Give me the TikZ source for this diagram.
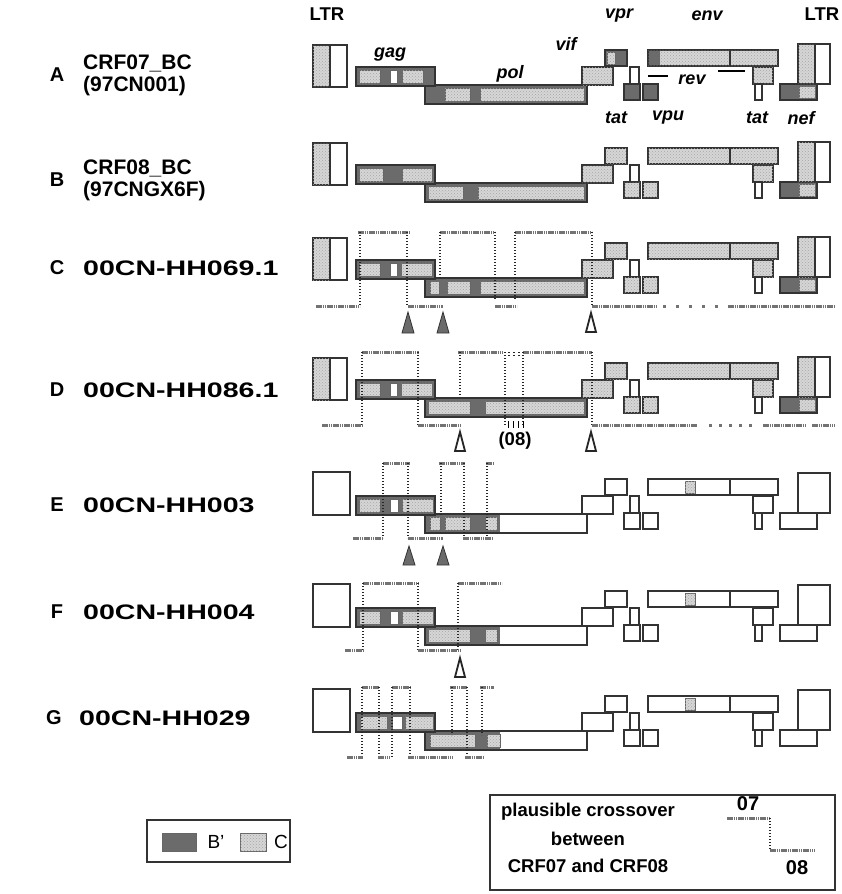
\documentclass[tikz,border=0pt]{standalone}
\usepackage{fontspec}
\setmainfont{Liberation Sans}
\usetikzlibrary{patterns}
\definecolor{cB}{gray}{0.42}
\definecolor{cC}{gray}{0.84}
\begin{document}
\begin{tikzpicture}[x=1pt,y=-1pt,
  gb/.style={draw=black!80,line width=1.6pt},
  pp/.style={draw=black!60,line width=0.6pt},
  fC/.style={fill=cC,postaction={pattern=crosshatch dots,pattern color=black!35}},
  fB/.style={fill=cB},
  fW/.style={fill=white},
  hb/.style={draw=black!55,line width=3pt,dash pattern=on 1.6pt off 0.6pt},
  dl/.style={draw=black!85,line width=1.3pt,dash pattern=on 1.4pt off 1.6pt},
  lab/.style={font=\fontsize{21}{23}\selectfont\bfseries,anchor=west,inner sep=0pt},
  let/.style={font=\fontsize{20}{22}\selectfont\bfseries,inner sep=0pt},
  gene/.style={font=\fontsize{18}{20}\selectfont\bfseries\itshape,inner sep=0pt},
  bt/.style={font=\fontsize{18.5}{20}\selectfont\bfseries,inner sep=0pt},
  ftri/.style={fill=cB,draw=black!80,line width=0.8pt},
  otri/.style={draw=black!85,line width=1.8pt,fill=white}]
\useasboundingbox (0,0) rectangle (841,894);
\newcommand\bx[5]{\draw[gb,#5] (#1,#2) rectangle (#3,#4);}
\newcommand\pq[5]{\draw[pp,#5] (#1,#2) rectangle (#3,#4);}
\newcommand\wide[1]{\scalebox{1.36}[1]{#1}}
% common right part for coloured rows
\newcommand\rightpart[1]{%
  \bx{582}{0}{613}{18}{fC}
  \bx{630}{0}{639}{17}{fW}
  \bx{624}{17}{640}{33}{#1}
  \bx{643}{17}{658}{33}{#1}
  \bx{753}{0}{773}{17}{fC}
  \bx{755}{17}{762}{33}{fW}
  \bx{780}{17}{817}{33}{fB}\pq{799}{19}{815}{31}{fC}
  \bx{798}{-23}{815}{17}{fC}\bx{815}{-23}{830}{17}{fW}
  \bx{313}{-22}{330}{20}{fC}\bx{330}{-22}{347}{20}{fW}}
\newcommand\whitepart{%
  \bx{313}{-24}{350}{19}{fW}
  \bx{582}{0}{613}{18}{fW}
  \bx{605}{-17}{627}{-1}{fW}
  \bx{630}{0}{639}{17}{fW}
  \bx{624}{17}{640}{33}{fW}
  \bx{643}{17}{658}{33}{fW}
  \bx{648}{-17}{778}{-1}{fW}\pq{685}{-15}{695}{-3}{fC}\draw[gb] (730,-17)--(730,-1);
  \bx{753}{0}{773}{17}{fW}
  \bx{755}{17}{762}{33}{fW}
  \bx{780}{17}{817}{33}{fW}
  \bx{798}{-23}{830}{17}{fW}}
% ---------------- Row A
\begin{scope}[shift={(0,67)}]
  \bx{425}{18}{587}{37}{fB}\pq{445}{21}{470}{34}{fC}\pq{480}{21}{584}{34}{fC}
  \bx{356}{0}{435}{19}{fB}\pq{359}{3}{380}{16}{fC}\pq{390}{3}{397}{16}{fW}\pq{402}{3}{423}{16}{fC}
  \rightpart{fB}
  \bx{605}{-17}{627}{-1}{fB}\pq{607}{-15}{615}{-3}{fC}
  \bx{648}{-17}{778}{-1}{fC}\fill[cB] (649,-16) rectangle (660,-2);\draw[gb] (730,-17)--(730,-1);
\end{scope}
% ---------------- Row B
\begin{scope}[shift={(0,165)}]
  \bx{425}{18}{587}{37}{fB}\pq{428}{21}{463}{34}{fC}\pq{478}{21}{584}{34}{fC}
  \bx{356}{0}{435}{19}{fB}\pq{359}{3}{383}{16}{fC}\pq{402}{3}{432}{16}{fC}
  \rightpart{fC}
  \bx{605}{-17}{627}{-1}{fC}
  \bx{648}{-17}{778}{-1}{fC}\draw[gb] (730,-17)--(730,-1);
\end{scope}
% ---------------- Row C
\begin{scope}[shift={(0,260)}]
  \bx{425}{18}{587}{37}{fB}\pq{430}{21}{439}{34}{fC}\pq{447}{21}{470}{34}{fC}\pq{480}{21}{584}{34}{fC}
  \bx{356}{0}{435}{19}{fB}\pq{359}{3}{380}{16}{fC}\pq{390}{3}{397}{16}{fW}\pq{401}{3}{432}{16}{fC}
  \rightpart{fC}
  \bx{605}{-17}{627}{-1}{fC}
  \bx{648}{-17}{778}{-1}{fC}\draw[gb] (730,-17)--(730,-1);
\end{scope}
% ---------------- Row D
\begin{scope}[shift={(0,380)}]
  \bx{425}{18}{587}{37}{fB}\pq{428}{21}{470}{34}{fC}\pq{485}{21}{584}{34}{fC}
  \bx{356}{0}{435}{19}{fB}\pq{359}{3}{380}{16}{fC}\pq{390}{3}{397}{16}{fW}\pq{401}{3}{432}{16}{fC}
  \rightpart{fC}
  \bx{605}{-17}{627}{-1}{fC}
  \bx{648}{-17}{778}{-1}{fC}\draw[gb] (730,-17)--(730,-1);
\end{scope}
% ---------------- Row E
\begin{scope}[shift={(0,496)}]
  \bx{425}{18}{587}{37}{fW}\fill[cB] (426,19) rectangle (500,36);
  \pq{430}{21}{440}{34}{fC}\pq{445}{21}{470}{34}{fC}\pq{485}{21}{497}{34}{fC}
  \bx{356}{0}{435}{19}{fB}\pq{359}{3}{380}{16}{fC}\pq{390}{3}{398}{16}{fW}\pq{402}{3}{433}{16}{fC}
  \whitepart
\end{scope}
% ---------------- Row F
\begin{scope}[shift={(0,608)}]
  \bx{425}{18}{587}{37}{fW}\fill[cB] (426,19) rectangle (500,36);
  \pq{428}{21}{470}{34}{fC}\pq{485}{21}{497}{34}{fC}
  \bx{356}{0}{435}{19}{fB}\pq{359}{3}{380}{16}{fC}\pq{390}{3}{398}{16}{fW}\pq{402}{3}{433}{16}{fC}
  \whitepart
\end{scope}
% ---------------- Row G
\begin{scope}[shift={(0,713)}]
  \bx{425}{18}{587}{37}{fW}\fill[cB] (426,19) rectangle (500,36);
  \pq{430}{21}{475}{34}{fC}\pq{487}{21}{500}{34}{fC}
  \bx{356}{0}{435}{19}{fB}\pq{360}{3}{387}{16}{fC}\pq{392}{3}{402}{16}{fW}\pq{405}{3}{433}{16}{fC}
  \whitepart
\end{scope}
% ---------------- gene labels
\node[bt] (ltrl) at (327,14) {LTR};
\node[bt] (ltrr) at (822,14) {LTR};
\node[gene] (ggag) at (390,55) {gag};
\node[gene] (gpol) at (510,74) {pol};
\node[gene] (gvif) at (566,44) {vif};
\node[gene] (gvpr) at (619,16) {vpr};
\node[gene] (genv) at (707,16) {env};
\node[gene] (grev) at (692,80) {rev};
\node[gene] (gtat1) at (616,118) {tat};
\node[gene] (gvpu) at (668,118) {vpu};
\node[gene] (gtat2) at (757,118) {tat};
\node[gene] (gnef) at (801,118) {nef};
\draw[line width=1.2pt] (648,76)--(668,76);
\draw[line width=1.2pt] (718,71)--(745,71);
% ---------------- row labels
\node[let] (la) at (57,75) {A};
\node[lab] (na1) at (83,63) {CRF07\_BC};
\node[lab] (na2) at (83,86) {(97CN001)};
\node[let] (lb) at (57,180) {B};
\node[lab] (nb1) at (83,168) {CRF08\_BC};
\node[lab] (nb2) at (83,191) {(97CNGX6F)};
\node[let] (lc) at (57,268) {C};
\node[lab] (nc) at (83,268) {\wide{00CN-HH069.1}};
\node[let] (ld) at (57,390) {D};
\node[lab] (nd) at (83,390) {\wide{00CN-HH086.1}};
\node[let] (le) at (57,505) {E};
\node[lab] (ne) at (83,505) {\wide{00CN-HH003}};
\node[let] (lf) at (57,612) {F};
\node[lab] (nf) at (83,612) {\wide{00CN-HH004}};
\node[let] (lg) at (54,718) {G};
\node[lab] (ng) at (79,718) {\wide{00CN-HH029}};
% ---------------- Row C crossovers
\foreach \a/\b in {358/409,440/495,515/592} \draw[hb] (\a,232)--(\b,232);
\foreach \x/\e in {360/305,407/305,440/278,495/300,515/300,592/305} \draw[dl] (\x,232)--(\x,\e);
\foreach \a/\b in {316/360,408/443,495/517,592/657,728/835} \draw[hb] (\a,306)--(\b,306);
\foreach \x in {663,676,689,702,715} \draw[hb] (\x,306)--(\x+3,306);
\draw[ftri] (402,333)--(408,312)--(414,333)--cycle;
\draw[ftri] (437,333)--(443,312)--(449,333)--cycle;
\draw[otri] (586,332)--(591,313)--(596,332)--cycle;
% ---------------- Row D crossovers
\foreach \a/\b in {362/419,458/503,523/592} \draw[hb] (\a,352)--(\b,352);
\foreach \x in {509,514,519} \draw[dl] (\x,352)--(\x,357);
\foreach \x/\e in {362/425,418/425,460/397,505/425,523/425,592/425} \draw[dl] (\x,352)--(\x,\e);
\foreach \a/\b in {322/362,418/460,592/697,763/805,812/835} \draw[hb] (\a,425)--(\b,425);
\foreach \x in {709,719,729,739,749} \draw[hb] (\x,425)--(\x+3,425);
\foreach \x in {508,513,518,523} \draw[line width=1pt] (\x,421)--(\x,428);
\draw[otri] (455,451)--(460,432)--(465,451)--cycle;
\draw[otri] (586,451)--(591,432)--(596,451)--cycle;
\node[bt] (n08) at (515,441) {(08)};
% ---------------- Row E crossovers
\foreach \a/\b in {383/410,439/465,486/494} \draw[hb] (\a,463)--(\b,463);
\foreach \x/\e in {383/538,408/538,441/515,464/538,487/538} \draw[dl] (\x,463)--(\x,\e);
\foreach \a/\b in {353/383,408/443,463/492} \draw[hb] (\a,538)--(\b,538);
\draw[ftri] (403,565)--(409,546)--(415,565)--cycle;
\draw[ftri] (437,565)--(443,546)--(449,565)--cycle;
% ---------------- Row F crossovers
\foreach \a/\b in {363/419,458/502} \draw[hb] (\a,583)--(\b,583);
\foreach \x/\e in {363/650,418/650,458/650} \draw[dl] (\x,583)--(\x,\e);
\foreach \a/\b in {345/363,418/460} \draw[hb] (\a,650)--(\b,650);
\draw[otri] (455,677)--(460,658)--(465,677)--cycle;
% ---------------- Row G crossovers
\foreach \a/\b in {362/379,392/410,450/467,480/494} \draw[hb] (\a,687)--(\b,687);
\foreach \x/\e in {362/757,379/757,392/757,410/757,452/735,467/757,482/735} \draw[dl] (\x,687)--(\x,\e);
\foreach \a/\b in {347/363,378/390,408/453,465/483} \draw[hb] (\a,757)--(\b,757);
% ---------------- legend
\draw[line width=1.5pt,draw=black!80] (147,820) rectangle (290,862);
\draw[pp,fB] (162,833) rectangle (196,851);
\node[font=\fontsize{19}{21}\selectfont,inner sep=0pt] (lgB) at (216,842) {B'};
\draw[pp,fC] (240,833) rectangle (266,851);
\node[font=\fontsize{19}{21}\selectfont,inner sep=0pt] (lgC) at (281,842) {C};
\draw[line width=1.5pt,draw=black!80] (490,795) rectangle (835,890);
\node[bt] (t1) at (588,812) {plausible crossover};
\node[bt] (t2) at (588,839) {between};
\node[bt] (t3) at (588,866) {CRF07 and CRF08};
\node[font=\fontsize{20}{22}\selectfont\bfseries,inner sep=0pt] (t07) at (748,804) {07};
\node[font=\fontsize{20}{22}\selectfont\bfseries,inner sep=0pt] (t08) at (797,868) {08};
\draw[hb] (727,818)--(770,818);
\draw[dl] (770,818)--(770,850);
\draw[hb] (770,850)--(815,850);
\end{tikzpicture}
\end{document}
